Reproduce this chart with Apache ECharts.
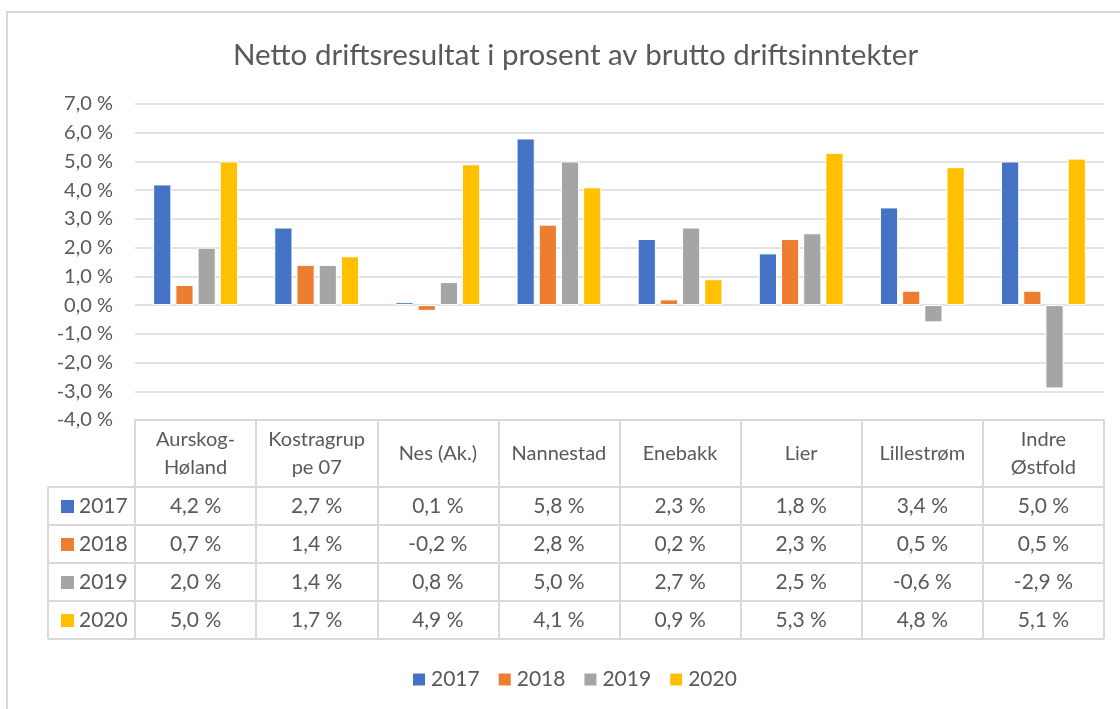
<!DOCTYPE html>
<html>
<head>
<meta charset="utf-8">
<script src="https://cdn.jsdelivr.net/npm/echarts@6/dist/echarts.min.js"></script>
<style>
  html, body { margin: 0; padding: 0; background: #fff; }
  #main { width: 1120px; height: 709px; }
</style>
</head>
<body>
<div id="main"></div>
<script>
// --- data ---
const kommuner = ['Aurskog-\nHøland', 'Kostragrup\npe 07', 'Nes (Ak.)', 'Nannestad', 'Enebakk', 'Lier', 'Lillestrøm', 'Indre\nØstfold'];
const years = ['2017', '2018', '2019', '2020'];
const v2017 = [4.2, 2.7, 0.1, 5.8, 2.3, 1.8, 3.4, 5.0];
const v2018 = [0.7, 1.4, -0.2, 2.8, 0.2, 2.3, 0.5, 0.5];
const v2019 = [2.0, 1.4, 0.8, 5.0, 2.7, 2.5, -0.6, -2.9];
const v2020 = [5.0, 1.7, 4.9, 4.1, 0.9, 5.3, 4.8, 5.1];
const yTicks = { min: -4, max: 7, interval: 1 };

const seriesData = [v2017, v2018, v2019, v2020];
const colors = ['#4472C4', '#ED7D31', '#A5A5A5', '#FFC000'];
const txt = '#595959', line = '#D9D9D9';
const FONT = 'Lato';

// --- layout ---
const gL = 135, gR = 1104, gT = 104, gB = 420;
const headH = 67, rowH = 38, labL = 48;

const pct = v => v.toFixed(1).replace('.', ',') + ' %';

// 数据表的数值行：每行一个额外 x 轴
const rowAxes = seriesData.map((arr, i) => ({
  type: 'category', gridIndex: 0, position: 'bottom',
  offset: headH + rowH * i,
  data: arr.map(pct),
  axisLine: { show: false }, axisTick: { show: false },
  axisLabel: { interval: 0, margin: rowH / 2, verticalAlign: 'middle', color: txt, fontSize: 21, fontFamily: FONT }
}));

// 表格线 + 左侧年份列
const graphic = [
  { type: 'rect', shape: { x: 7, y: 12, width: 1300, height: 900 }, style: { fill: 'none', stroke: line, lineWidth: 2 }, silent: true },
  { type: 'line', shape: { x1: labL, y1: gB + headH, x2: labL, y2: gB + headH + rowH * 4 }, style: { stroke: line, lineWidth: 2 } }
];
for (let i = 0; i <= 4; i++) {
  const y = gB + headH + rowH * i;
  graphic.push({ type: 'line', shape: { x1: labL, y1: y, x2: gR, y2: y }, style: { stroke: line, lineWidth: 2 } });
}
years.forEach((yr, i) => {
  const cy = gB + headH + rowH * i + rowH / 2;
  graphic.push({ type: 'rect', shape: { x: 61, y: cy - 6, width: 13, height: 13 }, style: { fill: colors[i] } });
  graphic.push({ type: 'text', x: 79, y: cy, style: { text: yr, fill: txt, font: '21px ' + FONT, verticalAlign: 'middle' } });
});

const chart = echarts.init(document.getElementById('main'));
chart.setOption({
  animation: false,
  textStyle: { fontFamily: FONT },
  title: {
    text: 'Netto driftsresultat i prosent av brutto driftsinntekter',
    left: 228, top: 35,
    textStyle: { color: txt, fontSize: 29.5, fontWeight: 'normal', fontFamily: FONT }
  },
  legend: {
    data: years, top: 664, left: 406,
    icon: 'rect', itemWidth: 14, itemHeight: 14, itemGap: 17,
    textStyle: { color: txt, fontSize: 21, fontFamily: FONT }
  },
  grid: { left: gL, right: 1120 - gR, top: gT, bottom: 709 - gB, containLabel: false },
  xAxis: [
    {
      type: 'category', data: kommuner, position: 'bottom',
      axisLine: { onZero: false, lineStyle: { color: line, width: 2 } },
      axisTick: { show: true, length: headH + rowH * 4, lineStyle: { color: line, width: 2 } },
      axisLabel: { interval: 0, margin: headH / 2, verticalAlign: 'middle', color: txt, fontSize: 20, lineHeight: 28, fontFamily: FONT }
    },
    ...rowAxes
  ],
  yAxis: {
    type: 'value', min: yTicks.min, max: yTicks.max, interval: yTicks.interval,
    axisLine: { show: false }, axisTick: { show: false },
    axisLabel: { formatter: pct, color: txt, fontSize: 20, margin: 22, fontFamily: FONT },
    splitLine: { lineStyle: { color: line, width: 1.5 } }
  },
  series: seriesData.map((arr, i) => ({
    name: years[i], type: 'bar', data: arr,
    barGap: '22%', barCategoryGap: '30%',
    itemStyle: { color: colors[i], borderColor: '#fff', borderWidth: 1 }
  })),
  graphic: graphic
});
</script>
</body>
</html>
